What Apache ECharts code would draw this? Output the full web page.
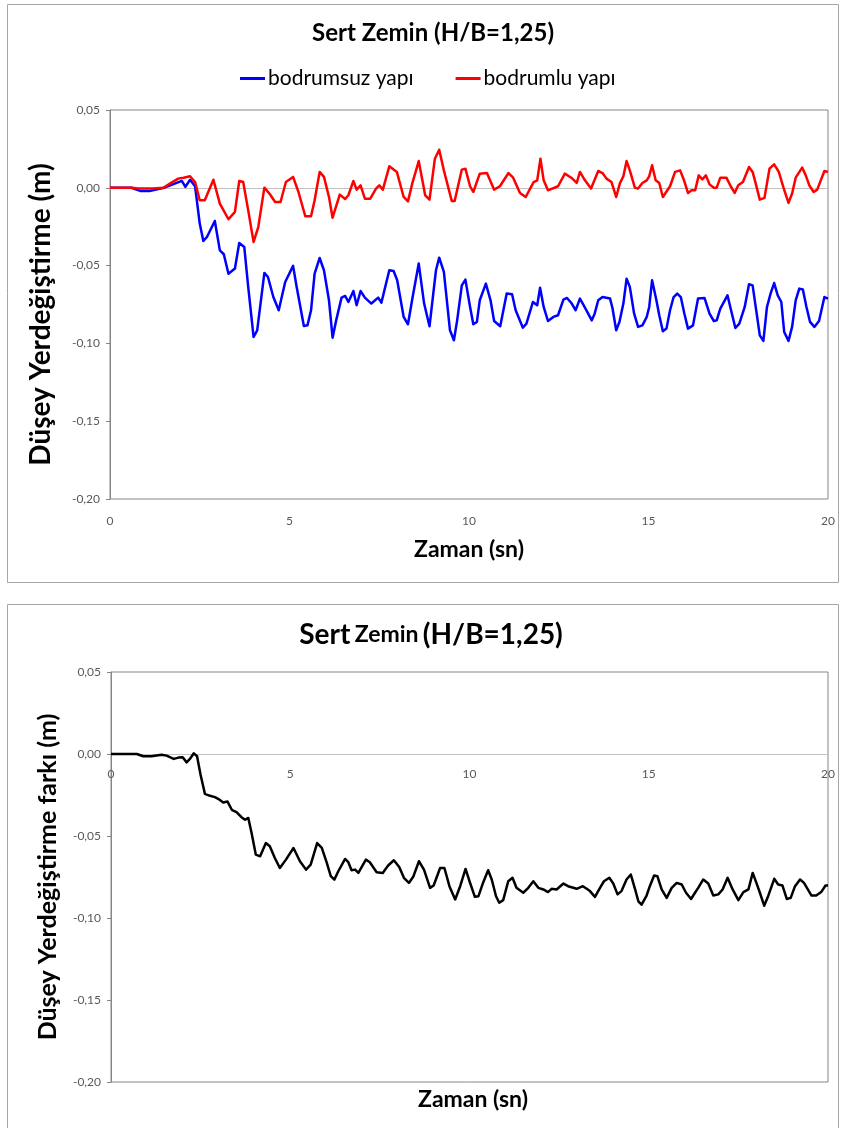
<!DOCTYPE html>
<html>
<head>
<meta charset="utf-8">
<script src="https://cdn.jsdelivr.net/npm/echarts@6/dist/echarts.min.js"></script>
<style>
  html, body { margin: 0; padding: 0; background: #fff; }
  #chart { width: 842px; height: 1128px; }
</style>
</head>
<body>
<div id="chart"></div>
<script>
// Texts
const chartTitle = 'Sert Zemin (H/B=1,25)';
const seriesNames = ['bodrumsuz yapı', 'bodrumlu yapı', 'fark'];
const xTitle = 'Zaman (sn)';
const yTitleTop = 'Düşey Yerdeğiştirme (m)';
const yTitleBottom = 'Düşey Yerdeğiştirme farkı (m)';

// Axis ranges / ticks
const xTicks = [0, 5, 10, 15, 20];
const yTicks = [-0.20, -0.15, -0.10, -0.05, 0.00, 0.05];

// Vertical displacement [time (s), displacement (m)] – building without basement
const bodrumsuz = [
  [0,0],[0.6,0],[0.84,-0.002],[1.1,-0.002],[1.5,0],[2.0,0.0044],[2.1,0.0006],[2.23,0.0052],
  [2.37,0.001],[2.5,-0.023],[2.6,-0.0342],[2.7,-0.0316],[2.92,-0.0213],[3.06,-0.0402],[3.17,-0.0427],
  [3.3,-0.0552],[3.48,-0.0519],[3.6,-0.0355],[3.74,-0.038],[3.85,-0.0637],[4.0,-0.0959],[4.1,-0.0916],
  [4.3,-0.0547],[4.4,-0.0573],[4.55,-0.0702],[4.7,-0.0787],[4.88,-0.0605],[5.1,-0.0502],[5.2,-0.0637],
  [5.4,-0.0888],[5.5,-0.0884],[5.6,-0.0787],[5.7,-0.0552],[5.84,-0.0451],[5.96,-0.053],[6.1,-0.0723],
  [6.2,-0.0963],[6.3,-0.0852],[6.45,-0.0706],[6.55,-0.0695],[6.64,-0.0734],[6.78,-0.0663],[6.87,-0.0755],
  [6.98,-0.0663],[7.1,-0.0706],[7.28,-0.0744],[7.47,-0.0706],[7.56,-0.0738],[7.78,-0.053],[7.9,-0.0535],
  [8.0,-0.0594],[8.18,-0.083],[8.3,-0.0877],[8.43,-0.0702],[8.6,-0.0487],[8.75,-0.0744],[8.9,-0.089],
  [9.08,-0.053],[9.17,-0.0449],[9.3,-0.0541],[9.47,-0.0916],[9.58,-0.098],[9.67,-0.0852],[9.8,-0.0627],
  [9.9,-0.059],[10.03,-0.0766],[10.12,-0.0877],[10.22,-0.0862],[10.3,-0.0723],[10.47,-0.0616],[10.6,-0.0723],
  [10.7,-0.0856],[10.87,-0.089],[11.05,-0.068],[11.2,-0.0684],[11.3,-0.0787],[11.5,-0.0899],[11.6,-0.0873],
  [11.78,-0.0734],[11.9,-0.0755],[11.98,-0.0642],[12.08,-0.0766],[12.2,-0.0856],[12.35,-0.083],[12.48,-0.0819],
  [12.63,-0.0719],[12.73,-0.0708],[12.85,-0.074],[12.97,-0.0787],[13.09,-0.0712],[13.23,-0.077],[13.42,-0.0852],
  [13.5,-0.0809],[13.6,-0.0723],[13.72,-0.0702],[13.93,-0.0712],[14.0,-0.0777],[14.1,-0.0916],[14.19,-0.0862],
  [14.3,-0.0744],[14.39,-0.0584],[14.48,-0.0637],[14.6,-0.0809],[14.71,-0.0894],[14.83,-0.0884],[14.95,-0.083],
  [15.02,-0.0766],[15.1,-0.0594],[15.22,-0.0723],[15.3,-0.0819],[15.4,-0.0922],[15.5,-0.0905],[15.6,-0.0787],
  [15.7,-0.0702],[15.8,-0.068],[15.9,-0.0702],[16.0,-0.0809],[16.1,-0.0905],[16.24,-0.0884],[16.38,-0.0712],
  [16.56,-0.0708],[16.7,-0.0809],[16.82,-0.0856],[16.9,-0.0852],[17.0,-0.0777],[17.2,-0.0691],[17.3,-0.0787],
  [17.42,-0.0901],[17.53,-0.0873],[17.68,-0.0766],[17.8,-0.062],[17.9,-0.0627],[18.0,-0.0787],[18.1,-0.0948],
  [18.2,-0.0984],[18.3,-0.0766],[18.4,-0.068],[18.5,-0.0612],[18.6,-0.0691],[18.7,-0.0734],[18.78,-0.0927],
  [18.9,-0.0984],[19.0,-0.0894],[19.1,-0.0723],[19.2,-0.0648],[19.3,-0.0654],[19.4,-0.0766],[19.5,-0.0862],
  [19.62,-0.0894],[19.75,-0.0856],[19.9,-0.0702],[20.0,-0.0712]
];

// Vertical displacement [time (s), displacement (m)] – building with basement
const bodrumlu = [
  [0,0],[0.6,0],[0.8,-0.0005],[1.2,-0.0005],[1.5,0.0001],[1.67,0.0027],[1.9,0.0059],[2.05,0.0065],
  [2.23,0.0074],[2.37,0.0037],[2.5,-0.008],[2.64,-0.008],[2.88,0.0052],[3.06,-0.0102],[3.3,-0.0202],
  [3.48,-0.0155],[3.6,0.0044],[3.71,0.0037],[3.85,-0.0145],[4.0,-0.0348],[4.13,-0.0252],[4.3,0.0001],
  [4.45,-0.004],[4.6,-0.0091],[4.75,-0.0091],[4.9,0.0037],[5.1,0.007],[5.25,-0.0027],[5.44,-0.0183],
  [5.6,-0.0183],[5.7,-0.008],[5.84,0.0102],[5.96,0.007],[6.1,-0.0059],[6.2,-0.0192],[6.4,-0.0044],
  [6.55,-0.0072],[6.64,-0.0048],[6.78,0.0044],[6.87,-0.0012],[6.98,0.0016],[7.1,-0.007],[7.25,-0.007],
  [7.41,-0.0005],[7.5,0.0016],[7.6,-0.0012],[7.78,0.0138],[7.9,0.0117],[7.99,0.0102],[8.18,-0.0059],
  [8.3,-0.0087],[8.43,0.0037],[8.6,0.0172],[8.78,-0.0048],[8.9,-0.0076],[9.05,0.0187],[9.17,0.0245],
  [9.3,0.0112],[9.52,-0.0085],[9.6,-0.0085],[9.8,0.0117],[9.9,0.0123],[10.03,0.001],[10.12,-0.0027],
  [10.3,0.0091],[10.5,0.0095],[10.7,-0.0012],[10.86,0.001],[11.1,0.0095],[11.23,0.0065],[11.42,-0.0033],
  [11.58,-0.0059],[11.8,0.0037],[11.9,0.0048],[11.99,0.0187],[12.08,0.0048],[12.2,-0.0016],[12.48,0.001],
  [12.67,0.0091],[12.85,0.0065],[13.0,0.0031],[13.09,0.0102],[13.23,0.0048],[13.4,-0.0005],[13.6,0.0108],
  [13.72,0.0095],[13.83,0.0059],[13.97,0.0037],[14.1,-0.0059],[14.2,0.0027],[14.3,0.0074],[14.39,0.0172],
  [14.48,0.0112],[14.62,0.0001],[14.71,-0.0005],[14.83,0.0031],[14.95,0.0048],[15.02,0.0074],[15.1,0.0145],
  [15.2,0.0048],[15.3,0.0031],[15.4,-0.0059],[15.6,0.001],[15.74,0.0102],[15.88,0.0112],[15.99,0.0048],
  [16.1,-0.0033],[16.2,-0.0016],[16.3,-0.0016],[16.4,0.008],[16.5,0.0054],[16.6,0.008],[16.7,0.0022],
  [16.82,0.0001],[16.9,0.0001],[17.0,0.0065],[17.17,0.0065],[17.29,0.001],[17.4,-0.0033],[17.5,0.0016],
  [17.63,0.0037],[17.8,0.0134],[17.9,0.0102],[18.0,0.0016],[18.1,-0.0076],[18.23,-0.0065],[18.37,0.0123],
  [18.5,0.0151],[18.63,0.0102],[18.76,0.0001],[18.9,-0.0097],[19.0,-0.0037],[19.1,0.0065],[19.28,0.013],
  [19.38,0.008],[19.48,0.0016],[19.6,-0.0027],[19.7,-0.0012],[19.9,0.0108],[20.0,0.0102]
];

// Difference of vertical displacement [time (s), difference (m)]
const fark = [
  [0,0],[0.72,0],[0.9,-0.0014],[1.13,-0.0014],[1.41,-0.0004],[1.55,-0.001],[1.75,-0.003],[1.88,-0.0022],
  [2.0,-0.002],[2.11,-0.0051],[2.2,-0.003],[2.31,0.0004],[2.4,-0.0014],[2.5,-0.0128],[2.62,-0.0243],
  [2.76,-0.0255],[2.9,-0.0263],[3.0,-0.0275],[3.13,-0.0296],[3.25,-0.029],[3.37,-0.034],[3.5,-0.0354],
  [3.64,-0.0385],[3.74,-0.0401],[3.83,-0.039],[3.92,-0.048],[4.04,-0.0614],[4.16,-0.0624],[4.32,-0.0543],
  [4.43,-0.0563],[4.57,-0.0634],[4.71,-0.0695],[4.88,-0.0644],[5.09,-0.0573],[5.27,-0.0654],[5.44,-0.0705],
  [5.57,-0.0674],[5.75,-0.0543],[5.88,-0.0573],[6.02,-0.0664],[6.13,-0.0745],[6.23,-0.0766],[6.34,-0.0715],
  [6.53,-0.064],[6.62,-0.066],[6.71,-0.0709],[6.81,-0.0705],[6.9,-0.0725],[7.11,-0.0644],[7.22,-0.066],
  [7.41,-0.0721],[7.58,-0.0725],[7.73,-0.068],[7.89,-0.0648],[8.04,-0.0689],[8.17,-0.0755],[8.31,-0.0786],
  [8.43,-0.0749],[8.59,-0.0654],[8.73,-0.0705],[8.9,-0.0816],[9.0,-0.0802],[9.18,-0.0695],[9.3,-0.0695],
  [9.44,-0.0806],[9.6,-0.0887],[9.74,-0.0806],[9.89,-0.0701],[10.01,-0.0782],[10.15,-0.0871],[10.25,-0.0867],
  [10.37,-0.079],[10.52,-0.0709],[10.62,-0.0765],[10.74,-0.0867],[10.83,-0.0907],[10.94,-0.0891],[11.08,-0.0776],
  [11.2,-0.0755],[11.31,-0.0816],[11.5,-0.0846],[11.64,-0.0816],[11.78,-0.0776],[11.92,-0.0816],[12.06,-0.0826],
  [12.19,-0.0842],[12.29,-0.0822],[12.43,-0.0826],[12.62,-0.079],[12.75,-0.0806],[12.99,-0.0822],[13.16,-0.0806],
  [13.27,-0.0822],[13.36,-0.0836],[13.5,-0.0871],[13.64,-0.0816],[13.75,-0.0776],[13.9,-0.0755],[14.01,-0.079],
  [14.13,-0.0856],[14.24,-0.0836],[14.38,-0.0765],[14.5,-0.0735],[14.62,-0.0826],[14.71,-0.0898],[14.8,-0.0919],
  [14.94,-0.0863],[15.03,-0.0806],[15.15,-0.0741],[15.24,-0.0745],[15.36,-0.0826],[15.5,-0.0877],[15.64,-0.0816],
  [15.78,-0.0786],[15.92,-0.0796],[16.04,-0.0846],[16.18,-0.0884],[16.29,-0.0846],[16.38,-0.0816],[16.52,-0.0765],
  [16.66,-0.079],[16.8,-0.0863],[16.94,-0.0856],[17.06,-0.0826],[17.2,-0.0755],[17.34,-0.0826],[17.5,-0.0891],
  [17.64,-0.0842],[17.78,-0.0826],[17.9,-0.0725],[18.01,-0.079],[18.1,-0.0846],[18.22,-0.0925],[18.33,-0.0867],
  [18.5,-0.0761],[18.61,-0.0796],[18.73,-0.0802],[18.85,-0.0884],[18.96,-0.0877],[19.08,-0.0806],[19.22,-0.0765],
  [19.33,-0.0786],[19.54,-0.0863],[19.67,-0.0863],[19.81,-0.0842],[19.93,-0.0802],[20.0,-0.0802]
];

const FONT = 'Lato, "Open Sans", sans-serif';
const LABEL_COLOR = '#595959';
const FRAME_COLOR = '#a6a6a6';
const BORDER_COLOR = '#868686';
const ZERO_COLOR = '#c0c0c0';

const Y_MIN = yTicks[0];
const Y_MAX = yTicks[yTicks.length - 1];
const BOTTOM_GRID_H = 410;

const fmtY = v => (Math.abs(v) < 1e-9 ? '0,00' : v.toFixed(2).replace('.', ','));

function xAxisFor(gridIndex, onZero) {
  // For the lower plot the tick labels sit just under the zero line.
  const zeroOffset = BOTTOM_GRID_H * (0 - Y_MIN) / (Y_MAX - Y_MIN);
  return {
    type: 'value', gridIndex,
    min: xTicks[0], max: xTicks[xTicks.length - 1], interval: xTicks[1] - xTicks[0],
    axisLine: onZero ? { show: true, onZero: true, lineStyle: { color: ZERO_COLOR, width: 1 } } : { show: false, onZero: false },
    axisTick: { show: false },
    splitLine: { show: false },
    axisLabel: { color: LABEL_COLOR, fontSize: 12, fontFamily: FONT, margin: onZero ? 14 - zeroOffset : 16 }
  };
}

function yAxisFor(gridIndex, name, nameSize, nameGap, namePadding) {
  return {
    type: 'value', gridIndex,
    min: Y_MIN, max: Y_MAX, interval: yTicks[1] - yTicks[0],
    axisLine: { show: true, onZero: false, lineStyle: { color: BORDER_COLOR, width: 1 } },
    axisTick: { show: true, length: 4, lineStyle: { color: BORDER_COLOR } },
    splitLine: { show: false },
    axisLabel: { color: LABEL_COLOR, fontSize: 12, fontFamily: FONT, margin: 10, formatter: fmtY },
    name, nameLocation: 'middle', nameRotate: 90, nameGap,
    nameTextStyle: { color: '#000', fontSize: nameSize, fontWeight: 'bold', fontFamily: FONT, padding: namePadding }
  };
}

const xTop = xAxisFor(0, false);
xTop.name = xTitle;
xTop.nameLocation = 'middle';
xTop.nameGap = 39;
xTop.nameTextStyle = { color: '#000', fontSize: 23, fontWeight: 'bold', fontFamily: FONT };

const option = {
  backgroundColor: '#fff',
  animation: false,
  graphic: [
    { type: 'rect', silent: true, z: -10, shape: { x: 7.5, y: 4.5, width: 831, height: 578 },
      style: { fill: 'none', stroke: FRAME_COLOR, lineWidth: 1 } },
    { type: 'rect', silent: true, z: -10, shape: { x: 7.5, y: 604.5, width: 831, height: 560 },
      style: { fill: 'none', stroke: FRAME_COLOR, lineWidth: 1 } }
  ],
  title: [
    { text: chartTitle, left: 428, top: 16, textAlign: 'center',
      textStyle: { fontSize: 24, fontWeight: 'bold', color: '#000', fontFamily: FONT } },
    { text: '{a|Sert} {b|Zemin} {a|(H/B=1,25)}', left: 426, top: 616, textAlign: 'center',
      textStyle: { fontFamily: FONT, color: '#000',
        rich: {
          a: { fontSize: 28, fontWeight: 'bold', fontFamily: FONT, color: '#000' },
          b: { fontSize: 23, fontWeight: 'bold', fontFamily: FONT, color: '#000' }
        } } },
    { text: xTitle, left: 468, top: 1083, textAlign: 'center',
      textStyle: { fontSize: 23, fontWeight: 'bold', color: '#000', fontFamily: FONT } }
  ],
  legend: {
    data: [{ name: seriesNames[0], icon: 'rect' }, { name: seriesNames[1], icon: 'rect' }],
    left: 235, top: 63, itemWidth: 25, itemHeight: 3, itemGap: 42,
    textStyle: { fontSize: 21, color: '#000', fontFamily: FONT, padding: [0, 0, 0, -2] }
  },
  grid: [
    { left: 110, top: 110, width: 718, height: 389, show: true, borderColor: BORDER_COLOR, borderWidth: 1, backgroundColor: 'transparent' },
    { left: 111, top: 672, width: 717, height: BOTTOM_GRID_H, show: true, borderColor: BORDER_COLOR, borderWidth: 1, backgroundColor: 'transparent' }
  ],
  xAxis: [xTop, xAxisFor(1, true)],
  yAxis: [yAxisFor(0, yTitleTop, 28, 55, [0, 20, 0, 0]), yAxisFor(1, yTitleBottom, 25, 51, 0)],
  series: [
    {
      name: seriesNames[0], type: 'line', xAxisIndex: 0, yAxisIndex: 0,
      data: bodrumsuz, showSymbol: false, symbol: 'none',
      lineStyle: { color: '#0000ff', width: 2.5, join: 'round' }, itemStyle: { color: '#0000ff' },
      markLine: {
        silent: true, symbol: 'none', z: 1, animation: false,
        label: { show: false },
        lineStyle: { color: ZERO_COLOR, width: 1, type: 'solid' },
        data: [{ yAxis: 0 }]
      }
    },
    {
      name: seriesNames[1], type: 'line', xAxisIndex: 0, yAxisIndex: 0,
      data: bodrumlu, showSymbol: false, symbol: 'none',
      lineStyle: { color: '#ff0000', width: 2.5, join: 'round' }, itemStyle: { color: '#ff0000' }
    },
    {
      name: seriesNames[2], type: 'line', xAxisIndex: 1, yAxisIndex: 1,
      data: fark, showSymbol: false, symbol: 'none',
      lineStyle: { color: '#000000', width: 2.5, join: 'round' }, itemStyle: { color: '#000000' }
    }
  ]
};

const chart = echarts.init(document.getElementById('chart'), null, { renderer: 'canvas' });
chart.setOption(option);
</script>
</body>
</html>
